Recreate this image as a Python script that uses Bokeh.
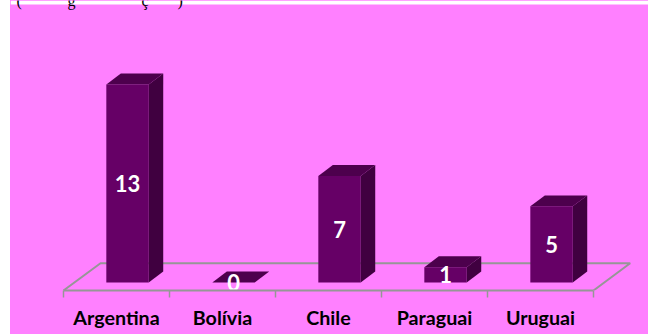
from bokeh.plotting import figure
from bokeh.models import Range1d, FixedTicker, BoxAnnotation, Label
from bokeh.core.properties import value
from bokeh.embed import file_html
from bokeh.resources import INLINE

categories = ["Argentina", "Bolívia", "Chile", "Paraguai", "Uruguai"]
values = [13, 0, 7, 1, 5]
top_fragments = ["(", "g", "ç", ")"]

PINK = "#FF80FF"
FRONT = "#660066"
SIDE = "#400040"
TOP = "#4D004D"
GRID = "#969696"

W, H = 638, 334
p = figure(width=W, height=H, output_backend="svg", toolbar_location=None,
           min_border_left=0, min_border_right=0, min_border_top=0, min_border_bottom=44,
           x_range=Range1d((10 - 116) / 106, (648 - 116) / 106),
           y_range=Range1d(-8 / 15.23, (290) / 15.23 - 8 / 15.23),
           background_fill_color=PINK, border_fill_color=PINK,
           outline_line_color=None, y_axis_location=None)
p.styles = {"position": "absolute", "left": "10px", "top": "0px", "background-color": PINK}
p.grid.visible = False

# floor in 3D perspective
p.line([-0.5, -0.151, 4.846, 4.5], [-0.525, 1.267, 1.267, -0.525], line_color=GRID, line_width=2)

shift, half = 0.104, 0.2
dx, dy = 14.5 / 106, 0.72
xs = [i + shift for i in range(len(values))]
p.vbar(x=xs, top=values, bottom=0, width=2 * half, fill_color=FRONT, line_color=None)
p.patches([[x + half, x + half + dx, x + half + dx, x + half] for x in xs],
          [[0, dy, v + dy, v] for v in values], fill_color=SIDE, line_color=None)
p.patches([[x - half, x - half + dx, x + half + dx, x + half] for x in xs],
          [[v, v + dy, v + dy, v] for v in values], fill_color=TOP, line_color=None)
p.text(x=xs, y=[v / 2 for v in values], text=[str(v) for v in values],
       text_color="white", text_font=value("Lato"), text_font_style="bold",
       text_font_size="22px", text_align="center", text_baseline="middle")

ax = p.xaxis[0]
ax.ticker = FixedTicker(ticks=list(range(len(categories))),
                        minor_ticks=[i - 0.5 for i in range(len(categories) + 1)])
ax.major_label_overrides = dict(enumerate(categories))
ax.bounds = (-0.5, 4.5)
ax.axis_line_color = GRID
ax.axis_line_width = 2
ax.major_tick_line_color = None
ax.minor_tick_line_color = GRID
ax.minor_tick_line_width = 1.5
ax.minor_tick_in = 0
ax.minor_tick_out = 7
ax.major_label_standoff = 8
ax.major_label_text_font = "Lato"
ax.major_label_text_font_style = "bold"
ax.major_label_text_font_size = "19.7px"
ax.major_label_text_color = "black"

# white strip above the pink panel, with the clipped text that shows in it
p.add_layout(BoxAnnotation(left=0, right=W, top=0, bottom=4, left_units="canvas", right_units="canvas",
                           top_units="canvas", bottom_units="canvas", fill_color="white", fill_alpha=1,
                           line_color=None, level="overlay"))
for frag, px in zip(top_fragments, [6, 57, 131, 167]):
    p.add_layout(Label(x=px, y=0, x_units="canvas", y_units="canvas", text=frag, text_font="Liberation Serif",
                       text_font_size="16px", text_color="black", text_baseline="alphabetic", level="overlay"))

open("out.html", "w").write(file_html(p, INLINE))
